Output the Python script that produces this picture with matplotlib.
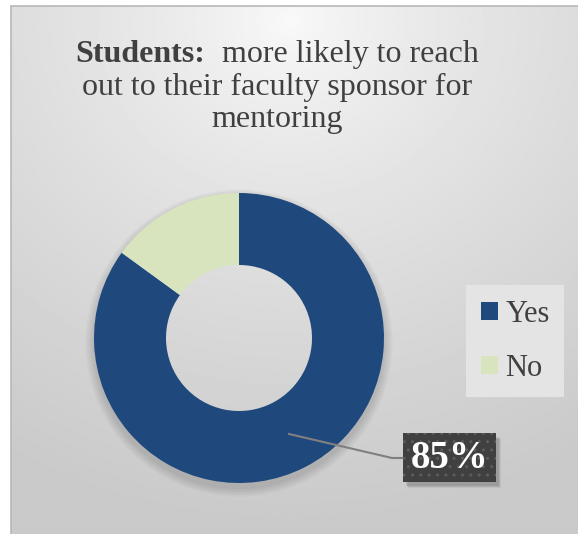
import matplotlib.pyplot as plt
import matplotlib.patches as mpatches
import numpy as np

labels = ['Yes', 'No']
shares = [85, 15]
colors = ['#1f497d', '#d7e4bd']
title_bold = 'Students:'
title_lines = ['  more likely to reach', 'out to their faculty sponsor for', 'mentoring']

W, H = 578, 534
serif = 'Liberation Serif'
text_col = '#404040'

fig = plt.figure(figsize=(W / 100, H / 100), dpi=100)
ax = fig.add_axes([0, 0, 1, 1])


def Y(y):
    # pixel rows are counted from the top
    return H - y


# chart area background: soft radial grey gradient
x0, y0 = 11, 6
gx, gy = np.meshgrid(np.linspace(x0, W, 300), np.linspace(y0, H, 300))
r = np.hypot(gx - 290, (gy - 20) * 1.1) / 560
r = np.clip(r, 0, 1)
shade = 0.98 - 0.19 * r ** 0.75
ax.imshow(shade, cmap='gray', vmin=0, vmax=1, extent=(x0, W, Y(H), Y(y0)),
          origin='upper', zorder=0, aspect='auto')
ax.add_patch(mpatches.Rectangle((x0, Y(H) - 2), W - x0 + 2, H - y0 + 2,
                                fill=False, edgecolor='#b8b8b8', lw=1.2, zorder=1))

# donut
cx, cy, rad, ring = 239, 338, 145, 72

# soft drop shadow just outside the ring
for k in range(6):
    ro = rad + 1 + 1.5 * k
    ax.add_patch(mpatches.Wedge((cx, Y(cy + 5)), ro, 0, 360, width=ro - rad + 20,
                                facecolor='black', alpha=0.022, lw=0, zorder=2))

wedges, _ = ax.pie(shares, colors=colors, startangle=90, counterclock=False,
                   radius=rad, center=(cx, Y(cy)),
                   wedgeprops=dict(width=ring, edgecolor='none'))
for w in wedges:
    w.set_zorder(3)

ax.set_xlim(0, W)
ax.set_ylim(0, H)
ax.set_aspect('auto')
ax.axis('off')

# title, first line has a bold lead-in
fs_title = 23
fig.canvas.draw()
renderer = fig.canvas.get_renderer()
t_bold = ax.text(0, Y(62), title_bold, fontsize=fs_title, fontweight='bold',
                 family=serif, color=text_col, va='baseline', ha='left', zorder=5)
t_rest = ax.text(0, Y(62), title_lines[0], fontsize=fs_title, family=serif,
                 color=text_col, va='baseline', ha='left', zorder=5)
wb = t_bold.get_window_extent(renderer).width
wr = t_rest.get_window_extent(renderer).width
left = 277 - (wb + wr) / 2
t_bold.set_x(left)
t_rest.set_x(left + wb)
for i, line in enumerate(title_lines[1:]):
    ax.text(277, Y(95 + 32.5 * i), line, fontsize=fs_title, family=serif,
            color=text_col, va='baseline', ha='center', zorder=5)

# data label for the Yes slice
bx, by, bw, bh = 403, 433, 93, 49
ax.plot([289, 392, bx], [Y(434), Y(458), Y(458)], color='#808080', lw=1.5, zorder=4)
for k, a in enumerate([0.10, 0.08, 0.06]):
    ax.add_patch(mpatches.Rectangle((bx + 3 + k, Y(by + bh) - 4 - k), bw, bh,
                                    facecolor='black', alpha=a, lw=0, zorder=4))
ax.add_patch(mpatches.Rectangle((bx, Y(by + bh)), bw, bh, facecolor='#404040',
                                edgecolor='#5c5c5c', hatch='..', lw=0, zorder=5))
ax.text(bx + bw / 2, Y(by + bh / 2) - 1, f'{shares[0]}%', fontsize=28,
        fontweight='bold', family=serif, color='white', ha='center', va='center',
        zorder=6)

# legend
leg = ax.legend(wedges, labels, loc='upper left',
                bbox_to_anchor=(466 / W, 1 - 285 / H),
                prop={'family': serif, 'size': 22}, frameon=True, fancybox=False,
                facecolor='#e4e4e4', edgecolor='none', framealpha=1,
                handlelength=0.56, handleheight=0.56, handletextpad=0.25,
                labelspacing=0.82, borderpad=0.48, borderaxespad=0)
for t in leg.get_texts():
    t.set_color(text_col)
leg.set_zorder(6)

fig.savefig('out.png', dpi=100, facecolor='white')
